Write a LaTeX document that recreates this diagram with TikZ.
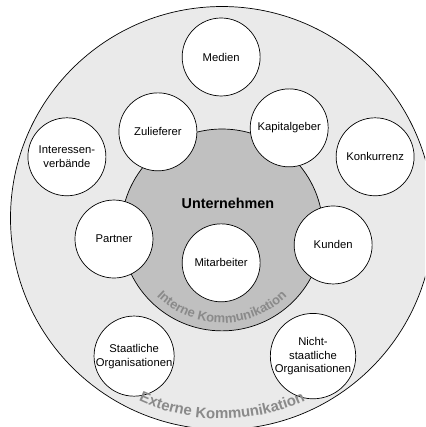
\documentclass[tikz,border=0pt]{standalone}
\usepackage{fontspec}
\setmainfont{Liberation Sans}
\usepackage{xcolor}
\usepackage{tikz}
\usetikzlibrary{positioning,decorations.text}

\definecolor{extgray}{HTML}{EAEAEA}
\definecolor{intgray}{HTML}{C0C0C0}
\definecolor{labgray}{HTML}{8A8A8A}
\newcommand{\labfont}{\fontsize{11.3}{14}\selectfont}
\newcommand{\intfont}{\fontsize{13}{15}\selectfont\bfseries}
\newcommand{\extfont}{\fontsize{15}{17}\selectfont\bfseries}

\tikzset{
  ring/.style={circle, draw, line width=0.7pt, inner sep=0pt},
  party/.style={circle, draw, fill=white, line width=0.7pt, minimum size=2.75cm,
    inner sep=0pt, align=center, font=\labfont}
}

\begin{document}
\begin{tikzpicture}
  \useasboundingbox (0,0) rectangle (14.99,15.06);
  \clip (0,0) rectangle (14.99,15.06);
  % Kreise
  \node[ring, fill=extgray, minimum size=14.92cm] (ext) at (7.83,7.37) {};
  \node[ring, fill=intgray, minimum size=7.12cm] (int) at (7.83,6.95) {};
  \node[font=\fontsize{14.4}{16}\selectfont\bfseries] (firma) at (8.04,7.87) {Unternehmen};
  % Anspruchsgruppen
  \foreach \n/\x/\y/\txt in {med/7.80/13.05/Medien,
      zul/5.57/10.41/Zulieferer,
      kap/10.20/10.55/Kapitalgeber,
      ver/2.36/9.53/{Interessen-\\verbände},
      kon/13.23/9.53/Konkurrenz,
      par/4.02/6.63/Partner,
      mit/7.80/5.79/Mitarbeiter,
      kun/11.75/6.42/Kunden,
      sta/4.73/2.50/{Staatliche\\Organisationen},
      ngo/11.04/2.50/{Nicht-\\staatliche\\Organisationen}} {
    \node[party] (\n) at (\x,\y) {\txt};
  }
  % gebogene Texte
  \path[decorate, decoration={text along path, text align=center, text color=labgray,
      text={|\intfont|Interne Kommunikation}}]
    (int.center) ++(200:3.28) arc[start angle=200, end angle=340, radius=3.28];
  \path[decorate, decoration={text along path, text align=center, text color=labgray,
      text={|\extfont|Externe Kommunikation}}]
    (ext.center) ++(230:7.08) arc[start angle=230, end angle=310, radius=7.08];
\end{tikzpicture}
\end{document}
